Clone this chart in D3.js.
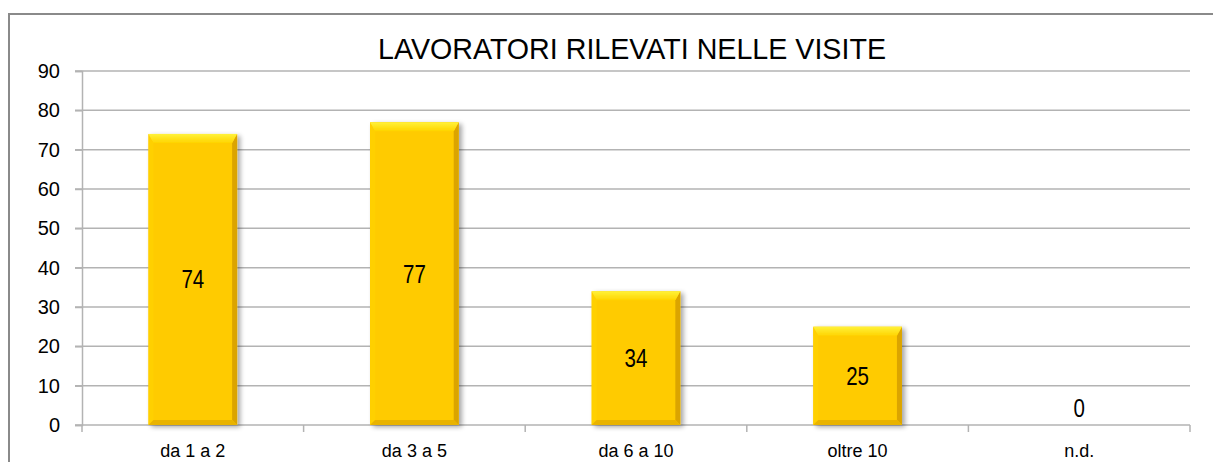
<!DOCTYPE html>
<html>
<head>
<meta charset="utf-8">
<script src="https://d3js.org/d3.v7.min.js"></script>
<style>
  body { margin: 0; background: #fff; }
  svg { display: block; }
  text { font-family: "Liberation Sans", Arial, sans-serif; fill: #000; }
</style>
</head>
<body>
<div id="chart"></div>
<script>
// chart data
var categories = ['da 1 a 2', 'da 3 a 5', 'da 6 a 10', 'oltre 10', 'n.d.'];
var values = [74, 77, 34, 25, 0];
var yTicks = [0, 10, 20, 30, 40, 50, 60, 70, 80, 90];
var title = 'LAVORATORI RILEVATI NELLE VISITE';

var width = 1213, height = 462;
var margin = {left: 82, right: 23, top: 71, bottom: 37};

var svg = d3.select('#chart').append('svg')
  .attr('width', width)
  .attr('height', height);

var defs = svg.append('defs');
var shadow = defs.append('filter').attr('id', 'shadow')
  .attr('x', '-20%').attr('y', '-20%').attr('width', '150%').attr('height', '150%');
shadow.append('feGaussianBlur').attr('in', 'SourceAlpha').attr('stdDeviation', 2.5);
shadow.append('feOffset').attr('dx', 3).attr('dy', 2).attr('result', 'blur');
shadow.append('feComponentTransfer').append('feFuncA').attr('type', 'linear').attr('slope', 0.35);
var merge = shadow.append('feMerge');
merge.append('feMergeNode');
merge.append('feMergeNode').attr('in', 'SourceGraphic');

var topGrad = defs.append('linearGradient').attr('id', 'topBevel')
  .attr('x1', 0).attr('y1', 0).attr('x2', 0).attr('y2', 1);
topGrad.append('stop').attr('offset', '0%').attr('stop-color', '#fff23a');
topGrad.append('stop').attr('offset', '100%').attr('stop-color', '#ffd400');

// outer frame
svg.append('path')
  .attr('d', 'M9,' + height + 'V14H' + width)
  .attr('fill', 'none')
  .attr('stroke', '#8a8a8a')
  .attr('stroke-width', 2);

var x = d3.scaleBand()
  .domain(categories)
  .range([margin.left, width - margin.right])
  .paddingInner(0.6)
  .paddingOuter(0.3);

var y = d3.scaleLinear()
  .domain([0, 90])
  .range([height - margin.bottom, margin.top]);

// gridlines
svg.append('g')
  .selectAll('line')
  .data(yTicks.filter(function(d){ return d > 0; }))
  .enter().append('line')
    .attr('x1', margin.left - 7)
    .attr('x2', width - margin.right)
    .attr('y1', function(d){ return y(d); })
    .attr('y2', function(d){ return y(d); })
    .attr('stroke', '#b3b3b3')
    .attr('stroke-width', 1.5);

// y axis
var yAxis = svg.append('g')
  .attr('transform', 'translate(' + margin.left + ',0)')
  .call(d3.axisLeft(y).tickValues(yTicks).tickSize(7).tickPadding(15));
yAxis.select('.domain').attr('stroke', '#b3b3b3').attr('stroke-width', 1.5);
yAxis.selectAll('.tick line').attr('stroke', '#b3b3b3').attr('stroke-width', 1.5);
yAxis.selectAll('.tick text')
  .attr('font-size', 20)
  .attr('font-family', '"Liberation Sans", Arial, sans-serif')
  .attr('fill', '#000');

// x axis line and ticks between categories
var base = y(0);
svg.append('line')
  .attr('x1', margin.left - 7).attr('x2', width - margin.right)
  .attr('y1', base).attr('y2', base)
  .attr('stroke', '#b3b3b3').attr('stroke-width', 1.5);
var step = x.step();
var bounds = d3.range(categories.length + 1).map(function(i){ return margin.left + i * step; });
svg.append('g').selectAll('line')
  .data(bounds)
  .enter().append('line')
    .attr('x1', function(d){ return d; })
    .attr('x2', function(d){ return d; })
    .attr('y1', base)
    .attr('y2', base + 7)
    .attr('stroke', '#b3b3b3')
    .attr('stroke-width', 1.5);

svg.append('g').selectAll('text')
  .data(categories)
  .enter().append('text')
    .attr('x', function(d){ return x(d) + x.bandwidth() / 2; })
    .attr('y', base + 32)
    .attr('text-anchor', 'middle')
    .attr('font-size', 18)
    .text(function(d){ return d; });

// bars with bevel
var bars = svg.append('g').selectAll('g')
  .data(values.map(function(v, i){ return {cat: categories[i], v: v}; }).filter(function(d){ return d.v > 0; }))
  .enter().append('g')
    .attr('filter', 'url(#shadow)');

bars.append('rect')
  .attr('x', function(d){ return x(d.cat); })
  .attr('y', function(d){ return y(d.v); })
  .attr('width', x.bandwidth())
  .attr('height', function(d){ return base - y(d.v); })
  .attr('fill', '#ffcb00');

function bevel(d, side) {
  var x0 = x(d.cat), x1 = x0 + x.bandwidth();
  var y0 = y(d.v), y1 = base;
  var t = 9, s = 5, b = 5;
  if (side === 'top') return [[x0, y0], [x1, y0], [x1 - s, y0 + t], [x0 + s, y0 + t]];
  if (side === 'left') return [[x0, y0], [x0 + s, y0 + t], [x0 + s, y1 - b], [x0, y1]];
  if (side === 'right') return [[x1, y0], [x1 - s, y0 + t], [x1 - s, y1 - b], [x1, y1]];
  return [[x0, y1], [x0 + s, y1 - b], [x1 - s, y1 - b], [x1, y1]];
}
var bevelFill = {top: 'url(#topBevel)', left: '#ffd000', right: '#dba400', bottom: '#e9b300'};
['left', 'right', 'bottom', 'top'].forEach(function(side){
  bars.append('polygon')
    .attr('points', function(d){ return bevel(d, side).join(' '); })
    .attr('fill', bevelFill[side]);
});

// value labels
svg.append('g').selectAll('text')
  .data(values.map(function(v, i){ return {cat: categories[i], v: v}; }))
  .enter().append('text')
    .attr('transform', function(d){
      var cx = x(d.cat) + x.bandwidth() / 2;
      var cy = d.v > 0 ? (y(d.v) + base) / 2 + 9 : base - 8;
      return 'translate(' + cx + ',' + cy + ') scale(0.82,1)';
    })
    .attr('text-anchor', 'middle')
    .attr('font-size', 25)
    .text(function(d){ return d.v; });

// title
svg.append('text')
  .attr('x', 632)
  .attr('y', 59)
  .attr('text-anchor', 'middle')
  .attr('font-size', 29)
  .attr('textLength', 508)
  .attr('lengthAdjust', 'spacingAndGlyphs')
  .text(title);
</script>
</body>
</html>
